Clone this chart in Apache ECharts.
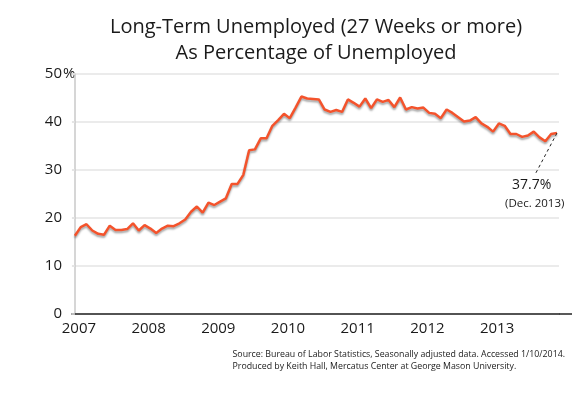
<!DOCTYPE html>
<html>
<head>
<meta charset="utf-8">
<script src="https://cdn.jsdelivr.net/npm/echarts@6/dist/echarts.min.js"></script>
<style>
  html, body { margin: 0; padding: 0; background: #fff; }
  #chart { width: 585px; height: 398px; }
</style>
</head>
<body>
<div id="chart"></div>
<script>
// monthly share of long-term unemployed, Jan 2007 .. Dec 2013
var values2007 = [16.3, 18.1, 18.7, 17.4, 16.7, 16.5, 18.4, 17.5, 17.5, 17.7, 18.9, 17.4];
var values2008 = [18.5, 17.8, 16.9, 17.8, 18.4, 18.3, 18.9, 19.7, 21.3, 22.4, 21.1, 23.2];
var values2009 = [22.7, 23.4, 24.1, 27.1, 27.1, 29.0, 34.1, 34.3, 36.6, 36.6, 39.2, 40.4];
var values2010 = [41.7, 40.8, 43.0, 45.3, 44.9, 44.8, 44.7, 42.6, 42.1, 42.5, 42.1, 44.7];
var values2011 = [44.0, 43.2, 44.9, 42.9, 44.7, 44.2, 44.6, 43.1, 45.1, 42.6, 43.1, 42.8];
var values2012 = [43.0, 41.9, 41.7, 40.8, 42.6, 41.9, 41.0, 40.1, 40.3, 41.0, 39.7, 39.0];
var values2013 = [38.0, 39.7, 39.2, 37.5, 37.5, 36.9, 37.2, 38.0, 36.8, 36.0, 37.5, 37.7];
var years = ['2007', '2008', '2009', '2010', '2011', '2012', '2013'];
var yTicks = [0, 10, 20, 30, 40, 50];

var allValues = [].concat(values2007, values2008, values2009, values2010,
  values2011, values2012, values2013);
var points = allValues.map(function (v, i) { return [i, v]; });
var yearStarts = years.map(function (y, i) { return i * 12; });
var lastIdx = allValues.length - 1;

var FONT = '"Open Sans", "DejaVu Sans", sans-serif';

var myChart = echarts.init(document.getElementById('chart'));
myChart.setOption({
  animation: false,
  backgroundColor: '#fff',
  title: {
    text: 'Long-Term Unemployed (27 Weeks or more)\nAs Percentage of Unemployed',
    left: 311,
    top: 9,
    textAlign: 'center',
    textStyle: {
      fontFamily: FONT, fontSize: 20, fontWeight: 'normal',
      color: '#1a1a1a', lineHeight: 26
    }
  },
  grid: { left: 72, right: 26, top: 74, bottom: 84 },
  xAxis: {
    type: 'value',
    min: -0.5,
    max: 83.35,
    splitLine: { show: false },
    axisLine: { show: true, lineStyle: { color: '#222', width: 1.5 } },
    axisTick: { show: false },
    axisLabel: {
      customValues: yearStarts,
      formatter: function (v) { return years[Math.round(v / 12)]; },
      fontFamily: FONT, fontSize: 15, color: '#1a1a1a',
      margin: 7,
      padding: [0, 0, 0, 8]
    }
  },
  yAxis: {
    type: 'value',
    min: 0,
    max: 50,
    interval: 10,
    axisLine: { show: true, lineStyle: { color: '#c8c8c8', width: 1.5 } },
    axisTick: { show: true, length: 3, lineStyle: { color: '#e4e4e4', width: 1.5 } },
    splitLine: { lineStyle: { color: '#e4e4e4', width: 1.5 } },
    axisLabel: {
      customValues: yTicks,
      fontFamily: FONT, fontSize: 15, color: '#1a1a1a',
      margin: 10
    }
  },
  series: [{
    type: 'line',
    data: points,
    symbol: 'none',
    lineStyle: {
      color: '#f4532c',
      width: 2.5,
      shadowColor: 'rgba(0,0,0,0.35)',
      shadowBlur: 2,
      shadowOffsetY: 2
    },
    markLine: {
      silent: true,
      symbol: 'none',
      label: { show: false },
      lineStyle: { color: '#222', type: [3, 3], width: 1 },
      data: [[{ coord: [lastIdx, allValues[lastIdx]] }, { coord: [79.2, 29.0] }]]
    }
  }],
  graphic: [
    {
      type: 'line',
      shape: { x1: 559, y1: 314, x2: 572, y2: 314 },
      style: { stroke: '#222', lineWidth: 1.5 }
    },
    {
      type: 'text',
      x: 63, y: 74,
      style: { text: '%', font: '15px ' + FONT, fill: '#1a1a1a', verticalAlign: 'middle', align: 'left' }
    },
    {
      type: 'text',
      left: 512, top: 178,
      style: { text: '37.7%', font: '14px ' + FONT, fill: '#1a1a1a' }
    },
    {
      type: 'text',
      left: 505, top: 198,
      style: { text: '(Dec. 2013)', font: '11.5px ' + FONT, fill: '#1a1a1a' }
    },
    {
      type: 'text',
      right: 20, top: 348,
      style: {
        text: 'Source: Bureau of Labor Statistics, Seasonally adjusted data. Accessed 1/10/2014.\nProduced by Keith Hall, Mercatus Center at George Mason University.',
        font: '8.8px ' + FONT, fill: '#1a1a1a', align: 'right', lineHeight: 12
      }
    }
  ]
});
</script>
</body>
</html>
